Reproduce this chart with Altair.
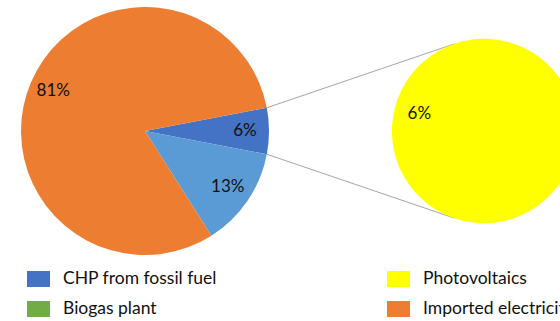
import math
import altair as alt
import pandas as pd

# Main pie: the small slice on the right is broken out into the secondary pie
main_shares = [6, 13, 81]
main_labels = ["6%", "13%", "81%"]
main_colors = ["#4472C4", "#5B9BD5", "#ED7D31"]

# Secondary pie (breakdown of the 6% slice)
sec_shares = [6]
sec_labels = ["6%"]
sec_colors = ["#FFFF00"]

# Legend entries
legend_names = ["CHP from fossil fuel", "Biogas plant", "Photovoltaics", "Imported electricity"]
legend_colors = ["#4472C4", "#70AD47", "#FFFF00", "#ED7D31"]

FONT = "Lato"

# Layout (pixels)
W, H = 560, 321
CX1, CY1, R1 = 145, 131, 124
CX2, CY2, R2 = 484, 131, 92

# Rotate the main pie so the broken-out slice is centred at 3 o'clock
total = sum(main_shares)
first_span = 2 * math.pi * main_shares[0] / total
start1 = math.pi / 2 - first_span / 2
theta_scale1 = alt.Scale(domain=[0, total], range=[start1, start1 + 2 * math.pi])

main_df = pd.DataFrame({
    "idx": range(len(main_shares)),
    "share": main_shares,
    "label": main_labels,
    "color": main_colors,
})

arcs = alt.Chart(main_df).mark_arc(outerRadius=R1, strokeWidth=0).encode(
    theta=alt.Theta("share:Q", stack=True, scale=theta_scale1),
    order=alt.Order("idx:Q"),
    color=alt.Color("color:N", scale=None),
    x=alt.value(CX1),
    y=alt.value(CY1),
)

arc_text = alt.Chart(main_df).mark_text(
    radius=100, font=FONT, fontSize=17, color="#111111"
).encode(
    theta=alt.Theta("share:Q", stack=True, scale=theta_scale1),
    order=alt.Order("idx:Q"),
    text="label:N",
    x=alt.value(CX1),
    y=alt.value(CY1),
)

# Secondary pie
sec_total = sum(sec_shares)
label_angle = math.radians(285)
theta_scale2 = alt.Scale(domain=[0, sec_total],
                         range=[label_angle - math.pi, label_angle + math.pi])
sec_df = pd.DataFrame({"idx": range(len(sec_shares)), "pv": sec_shares,
                       "label": sec_labels, "color": sec_colors})

sec_arc = alt.Chart(sec_df).mark_arc(outerRadius=R2).encode(
    theta=alt.Theta("pv:Q", stack=True, scale=theta_scale2),
    order=alt.Order("idx:Q"),
    color=alt.Color("color:N", scale=None),
    x=alt.value(CX2),
    y=alt.value(CY2),
)
sec_text = alt.Chart(sec_df).mark_text(
    radius=67, font=FONT, fontSize=17, color="#111111"
).encode(
    theta=alt.Theta("pv:Q", stack=True, scale=theta_scale2),
    order=alt.Order("idx:Q"),
    text="label:N",
    x=alt.value(CX2),
    y=alt.value(CY2),
)

# Connector lines from the edges of the broken-out slice to the secondary pie
a_top, a_bot = start1, start1 + first_span
conn_rows = []
for a, b in [(a_top, math.radians(-19)), (a_bot, math.radians(180 + 19))]:
    conn_rows.append({
        "x": CX1 + R1 * math.sin(a), "y": CY1 - R1 * math.cos(a),
        "x2": CX2 + R2 * math.sin(b), "y2": CY2 - R2 * math.cos(b),
    })
conn_df = pd.DataFrame(conn_rows)
connectors = alt.Chart(conn_df).mark_rule(color="#A5A5A5", strokeWidth=1).encode(
    x=alt.X("x:Q", scale=None), y=alt.Y("y:Q", scale=None),
    x2="x2:Q", y2="y2:Q",
)

# Legend: two columns, two rows
leg_rows = []
for i, (name, col) in enumerate(zip(legend_names, legend_colors)):
    c, r = i // 2, i % 2
    x0 = 27 + c * 360
    y0 = 271 + r * 30
    leg_rows.append({"name": name, "color": col, "x": x0, "x2": x0 + 23,
                     "y": y0, "y2": y0 + 16, "tx": x0 + 36, "ty": y0 + 8})
leg_df = pd.DataFrame(leg_rows)

leg_swatch = alt.Chart(leg_df).mark_rect().encode(
    x=alt.X("x:Q", scale=None), x2="x2:Q",
    y=alt.Y("y:Q", scale=None), y2="y2:Q",
    color=alt.Color("color:N", scale=None),
)
leg_text = alt.Chart(leg_df).mark_text(
    align="left", baseline="middle", font=FONT, fontSize=17.5, color="#111111"
).encode(
    x=alt.X("tx:Q", scale=None), y=alt.Y("ty:Q", scale=None), text="name:N",
)

chart = alt.layer(
    connectors, arcs, arc_text, sec_arc, sec_text, leg_swatch, leg_text
).resolve_scale(theta="independent").properties(
    width=W, height=H, padding=0,
    autosize=alt.AutoSizeParams(type="none"),
    background="white",
).configure_view(stroke=None)

chart.save("out.html", embed_options={"renderer": "svg", "actions": False})
